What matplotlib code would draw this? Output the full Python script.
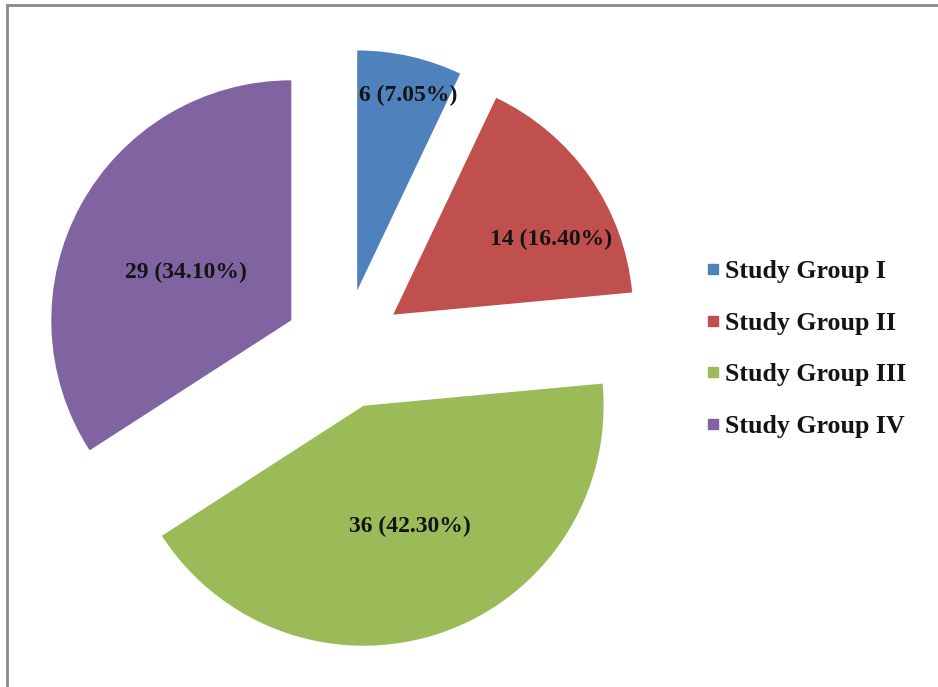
import numpy as np
import matplotlib
matplotlib.use("Agg")
import matplotlib.pyplot as plt
from matplotlib.lines import Line2D
from matplotlib.patches import Rectangle

categories = ["Study Group I", "Study Group II", "Study Group III", "Study Group IV"]
counts = [6, 14, 36, 29]
percent_labels = ["7.05%", "16.40%", "42.30%", "34.10%"]
colors = ["#4F81BD", "#C0504D", "#9BBB59", "#8064A2"]

# label placement: (fraction of radius, angle offset in degrees from wedge mid-angle)
label_place = [(0.84, -2.0), (0.73, -9.5), (0.54, 2.0), (0.48, 4.2)]

W, H = 938, 687
fig = plt.figure(figsize=(W / 100, H / 100), dpi=100)
ax = fig.add_axes([0, 0, 1, 1])

R = 240
explode_frac = 0.25
center = (344, H - 349)
wedges, _ = ax.pie(counts, colors=colors, startangle=90, counterclock=False,
                   explode=[explode_frac * R] * len(counts), radius=R,
                   center=center, frame=True, wedgeprops=dict(linewidth=0))
ax.set_xlim(0, W)
ax.set_ylim(0, H)
ax.set_aspect("equal")
ax.axis("off")

font = dict(family="Liberation Serif", weight="bold")
for w, c, p, (fr, off) in zip(wedges, counts, percent_labels, label_place):
    mid = 0.5 * (w.theta1 + w.theta2) + off
    cx, cy = w.center
    x = cx + fr * w.r * np.cos(np.radians(mid))
    y = cy + fr * w.r * np.sin(np.radians(mid))
    ax.text(x, y, f"{c} ({p})", ha="center", va="center", fontsize=17,
            color="#141414", **font)

# outer border
ax.add_patch(Rectangle((7, -10), W, H - 5 + 10, fill=False,
                       edgecolor="#8a8a8a", linewidth=2, clip_on=False))

handles = [Line2D([], [], marker="s", linestyle="none", markersize=7,
                  markerfacecolor=c, markeredgecolor=c) for c in colors]
leg = ax.legend(handles, categories, loc="center left",
                bbox_to_anchor=(707 / W, 1 - 349 / H), frameon=False,
                prop=dict(family="Liberation Serif", weight="bold", size=18.6),
                handlelength=0.45, handletextpad=0.25, labelspacing=1.1,
                borderaxespad=0, borderpad=0)
for t in leg.get_texts():
    t.set_color("#141414")

fig.savefig("out.png", dpi=100, facecolor="white")
